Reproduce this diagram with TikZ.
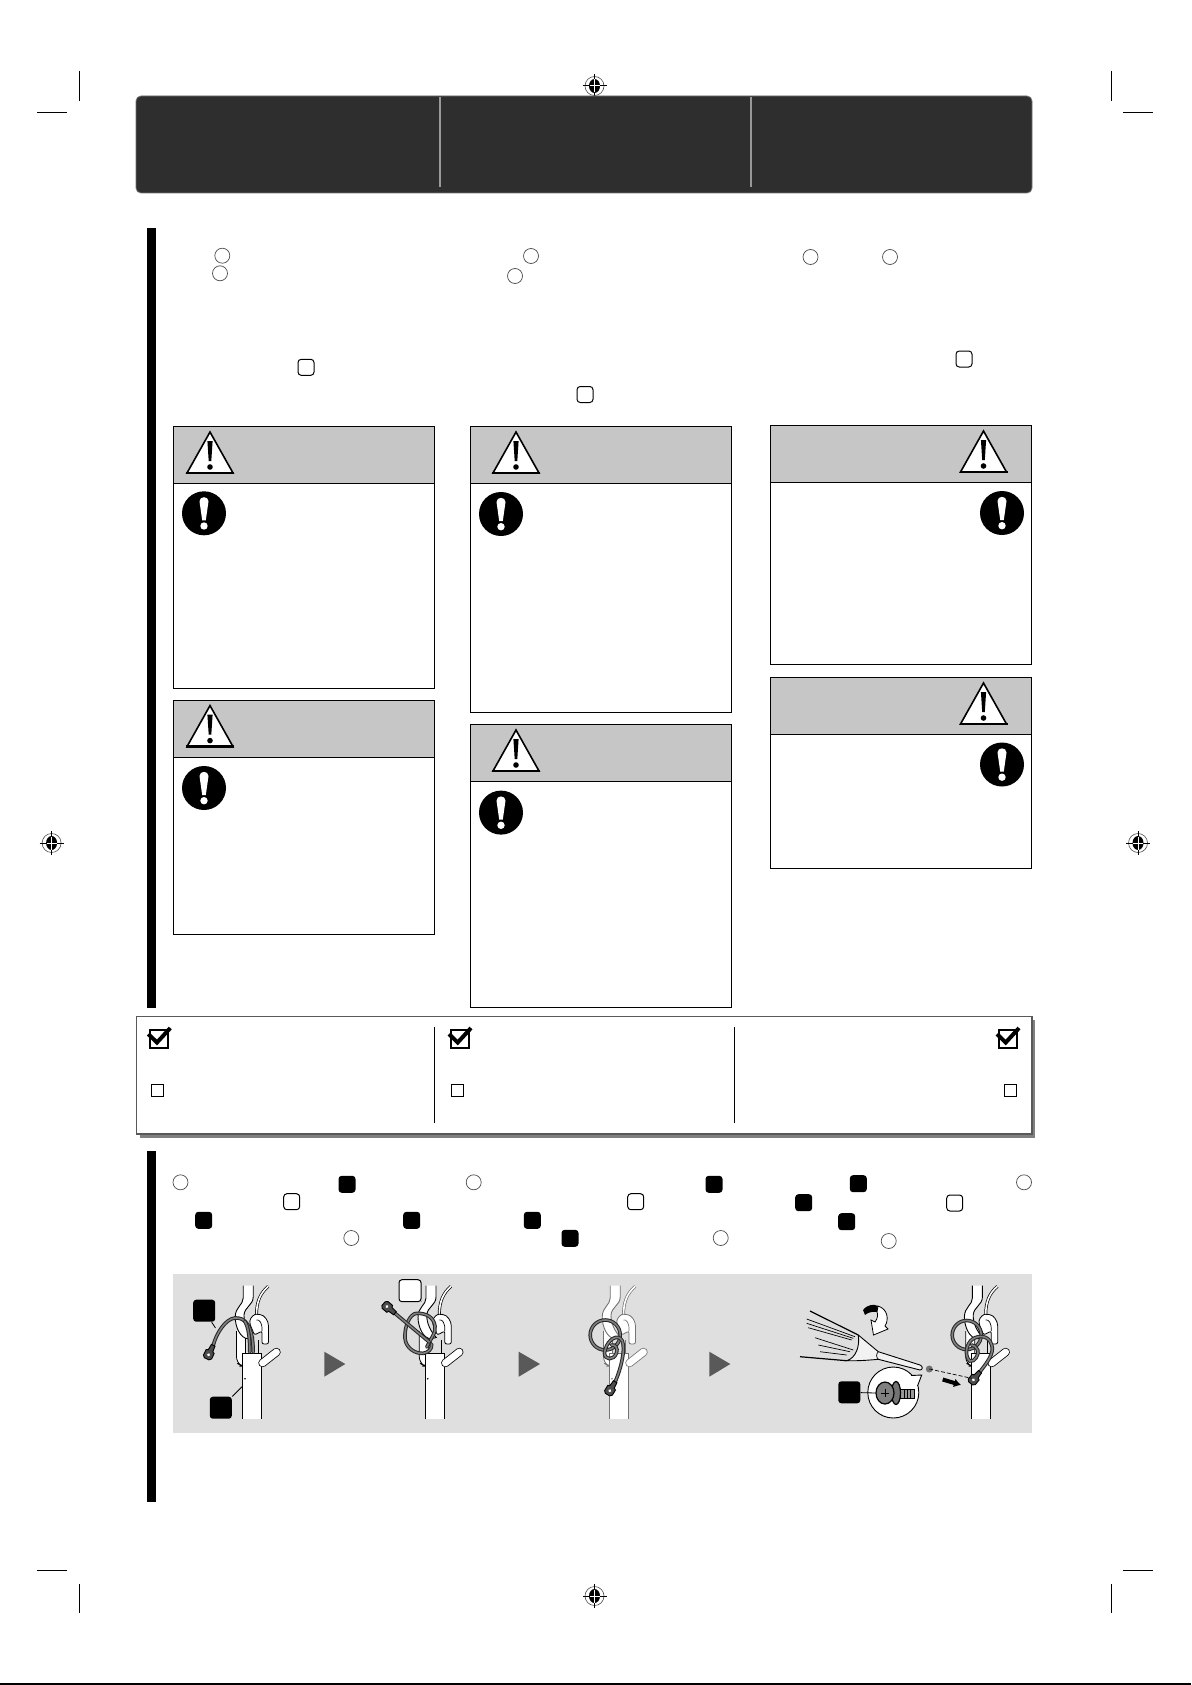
\documentclass[tikz,border=0pt]{standalone}
\usetikzlibrary{arrows.meta,positioning,shapes.geometric}
\definecolor{headgrey}{HTML}{2E2E2E}
\definecolor{bandgrey}{HTML}{C6C6C6}
\definecolor{panelgrey}{HTML}{DFDFDF}
\definecolor{playgrey}{HTML}{595959}
\tikzset{
cropline/.style={line width=.5pt},
numcircle/.style={
  circle, draw=black!70, fill=white, line width=.35pt, inner sep=0pt, minimum size=7.5pt
  },
partopen/.style={
  rectangle, rounded corners=1.6pt, draw=black, fill=white, line width=.5pt,
  inner sep=0pt, minimum size=8pt
  },
partfill/.style={
  rectangle, rounded corners=1.6pt, fill=black, inner sep=0pt, minimum size=8.5pt
  },
partbig/.style={
  rectangle, rounded corners=1.5pt, fill=black, inner sep=0pt, minimum size=11pt
  },
partbigopen/.style={
  rectangle, rounded corners=1.5pt, draw=black, fill=white, line width=.5pt,
  inner sep=0pt, minimum size=11pt
  },
warnhead/.style={
  rectangle, anchor=north west, draw=black, fill=bandgrey, line width=.5pt,
  inner sep=0pt, outer sep=0pt, minimum width=130.5pt, minimum height=28.5pt
  },
warnbody/.style={
  rectangle, draw=black, fill=white, line width=.5pt, inner sep=0pt, outer sep=0pt,
  minimum width=130.5pt, minimum height=#1
  },
tickbox/.style={
  rectangle, draw=black, fill=white, line width=.5pt, inner sep=0pt, minimum size=6pt
  },
cable/.style={
  draw=black!85, double=black!50, double distance=.8pt, line width=.5pt, line cap=round
  },
leader/.style={line width=.4pt},
pics/warnsign/.style={code={
  \draw[fill=white, line width=.8pt, line join=miter] (0,0) -- (23,41) -- (-23,41) -- cycle;
  \draw[line width=1.4pt] (-24,41) -- (24,41);
  \fill (-2.6,9) -- (2.6,9) -- (1.3,29) -- (-1.3,29) -- cycle;
  \fill (0,35) circle (2.8);
  }},
pics/mustsign/.style={code={
  \fill[black] (0,0) circle (22);
  \fill[white] (-4.5,-12) .. controls (-4.5,-17.5) and (4.5,-17.5) .. (4.5,-12) -- (1.8,7) -- (-1.8,7) -- cycle;
  \fill[white] (0,12.7) circle (3.7);
  }},
pics/regmark/.style={code={
  \draw[line width=.3pt, black!70] (0,0) circle (9.5);
  \fill (0,0) ellipse (5.5 and 7);
  \draw[line width=.5pt] (-12,0) -- (12,0) (0,-12) -- (0,12);
  \draw[line width=.5pt, white] (-5,0) -- (5,0) (0,-6.5) -- (0,6.5);
  }},
pics/checkmark/.style={code={
  \draw[line width=1pt, fill=white] (-9,-9) rectangle (9,9);
  \draw[line width=2pt, line join=miter] (-11,-5) -- (-2.3,3.5) -- (11,-11);
  }},
pics/lug/.style={code={
  \draw[fill=black!70, line width=.45pt] (0,-2) -- (6,-2.5) -- (7,-4.5) -- (13,-4.5) -- (15,-2.5)
    -- (15,2.5) -- (13,4.5) -- (7,4.5) -- (6,2.5) -- (0,2) -- cycle;
  \fill[white] (10.5,0) circle (1.6);
  }},
pics/hook/.style={code={
  % plate behind the pole
  \draw[line width=.4pt, fill=white, rounded corners=3pt] (-6,-22) -- (-6,10) -- (0,13.3) -- (3,13.3) -- (3,-22);
  \draw[line width=.4pt] (16,-13) -- (16,0);
  % thin wire
  \draw[line width=.35pt, double=white, double distance=.8pt] (25.7,-66.7) .. controls (18,-60) and (14,-52) .. (14,-38);
  % clamp
  \draw[line width=.4pt, fill=white, rounded corners=1pt] (7,-30) .. controls (8,-36) and (12,-39) .. (16,-38.5)
    .. controls (22,-38) and (26,-32) .. (26,-25) -- (26,-9) -- (19.5,-9) -- (19.5,-22) -- (12,-18) -- cycle;
  \draw[line width=.35pt] (14,-33) .. controls (17,-34) and (20,-30) .. (19.5,-22);
  % hook
  \draw[line width=.45pt, fill=white] (0.7,-67.3) -- (0.7,-55) .. controls (0.7,-48) and (-7.3,-46) .. (-7.3,-36)
    .. controls (-7.3,-26) and (-2,-14.3) .. (5.7,-14.3) -- (11,-15.5) .. controls (5,-22) and (1.3,-30) .. (1.5,-38)
    .. controls (2,-46) and (10.7,-48) .. (10.7,-56) -- (10.7,-67.3);
  % pole
  \draw[line width=.45pt, fill=white] (0,65.7) -- (0,0) -- (19,0) -- (19,65.7);
  \fill (2.5,25.7) circle (.9);
  % lever
  \draw[line width=.4pt, double=white, double distance=3.4pt, line cap=round] (20,10) -- (34,-1);
  }}
}
\begin{document}
\begin{tikzpicture}[x=.5pt,y=-.5pt,>=latex]
\useasboundingbox[fill=white] (0,0) rectangle (1191,1685);

% page edge

\draw[line width=.6pt] (0,1684) -- (1191,1684);

% crop marks

\draw[cropline] (79.5,71) -- (79.5,101);
\draw[cropline] (37,113) -- (67,113);
\draw[cropline] (1111.5,71) -- (1111.5,101);
\draw[cropline] (1123,113) -- (1153,113);
\draw[cropline] (79.5,1584) -- (79.5,1613);
\draw[cropline] (37,1570) -- (67,1570);
\draw[cropline] (1111.5,1584) -- (1111.5,1613);
\draw[cropline] (1123,1570) -- (1153,1570);

\pic at (594.5,86) {regmark};
\pic at (594.5,1596) {regmark};
\pic at (51.6,843) {regmark};
\pic at (1138,843) {regmark};

% header

\draw[fill=headgrey, draw=black!55, line width=.4pt, rounded corners=2.5pt] (136,96) rectangle (1032,193);
\draw[line width=.7pt, black!40] (440,97) -- (440,187);
\draw[line width=.7pt, black!40] (751,97) -- (751,187);

% side bars

\fill (147,228) rectangle (156,1008);
\fill (147,1151) rectangle (156,1502);

% upper markers

\node[numcircle] (C1) at (222.3,255.7) {};
\node[numcircle] (C2) at (220,273.3) {};
\node[numcircle] (C3) at (531,256) {};
\node[numcircle] (C4) at (515,276) {};
\node[numcircle] (C5) at (810.5,257) {};
\node[numcircle] (C6) at (890,257) {};

\node[partopen] (P1) at (306,367.3) {};
\node[partopen] (P2) at (585,394.5) {};
\node[partopen] (P3) at (964,359) {};

% warning column 1

\node[warnhead] (W1-head) at (173.3,426.7) {};
\node[warnbody=102.25pt, below=0pt of W1-head] (W1-body) {};
\pic at (210,432) {warnsign};
\pic at (204,513.3) {mustsign};

\node[warnhead] (W2-head) at (173.3,700.3) {};
\node[warnbody=88.5pt, below=0pt of W2-head] (W2-body) {};
\pic at (210,705.6) {warnsign};
\pic at (204,788) {mustsign};

% warning column 2

\node[warnhead] (W3-head) at (470,426.7) {};
\node[warnbody=114.6pt, below=0pt of W3-head] (W3-body) {};
\pic at (516,432) {warnsign};
\pic at (501,514) {mustsign};

\node[warnhead] (W4-head) at (470,724.5) {};
\node[warnbody=112.75pt, below=0pt of W4-head] (W4-body) {};
\pic at (516,730) {warnsign};
\pic at (501,812.6) {mustsign};

% warning column 3

\node[warnhead] (W5-head) at (770,425.5) {};
\node[warnbody=91pt, below=0pt of W5-head] (W5-body) {};
\pic at (983.5,431) {warnsign};
\pic at (1002,513) {mustsign};

\node[warnhead] (W6-head) at (770,677.5) {};
\node[warnbody=67pt, below=0pt of W6-head] (W6-body) {};
\pic at (983.5,683) {warnsign};
\pic at (1002,764.5) {mustsign};

% check strip

\fill[black!50] (139.5,1020) rectangle (1034.5,1137.5);
\draw[fill=white, draw=black!65, line width=.6pt] (136.7,1016.7) rectangle (1032,1134);
\draw[line width=.5pt] (434.3,1027) -- (434.3,1122.7);
\draw[line width=.5pt] (734.5,1027) -- (734.5,1122.7);

\pic at (159.3,1039) {checkmark};
\pic at (460,1039) {checkmark};
\pic at (1008,1039) {checkmark};

\node[tickbox] (T1) at (157.3,1090) {};
\node[tickbox] (T2) at (457,1090) {};
\node[tickbox] (T3) at (1010.5,1090) {};

% lower markers

\node[numcircle] (C7) at (180.5,1182.3) {};
\node[numcircle] (C8) at (473.7,1182.3) {};
\node[numcircle] (C9) at (351.3,1238) {};
\node[numcircle] (C10) at (720.7,1238) {};
\node[numcircle] (C11) at (888.7,1241) {};
\node[numcircle] (C12) at (1024,1182.3) {};

\node[partopen] (P4) at (291.7,1201.7) {};
\node[partopen] (P5) at (635.7,1201.7) {};
\node[partopen] (P6) at (954.7,1203) {};

\node[partfill] (F1) at (347,1184.3) {};
\node[partfill] (F2) at (203.7,1220.3) {};
\node[partfill] (F3) at (411.7,1220.3) {};
\node[partfill] (F4) at (532.3,1220.3) {};
\node[partfill] (F5) at (570,1238.3) {};
\node[partfill] (F6) at (714,1184.3) {};
\node[partfill] (F7) at (858.3,1183.7) {};
\node[partfill] (F8) at (803.7,1202.7) {};
\node[partfill] (F9) at (846.7,1221.7) {};

% panel

\fill[panelgrey] (173,1274) rectangle (1032,1433);

\fill[playgrey] (324.3,1351.7) -- (345.3,1364) -- (324.3,1376.7) -- cycle;
\fill[playgrey] (518.7,1351.7) -- (540,1364) -- (518.7,1376.7) -- cycle;
\fill[playgrey] (709.3,1351.7) -- (730.3,1364) -- (709.3,1376.7) -- cycle;

% figure 1

\begin{scope}[shift={(242.5,1353)}]
\pic {hook};
\draw[cable] (-29.3,-7.7) .. controls (-26,-20) and (-17,-34) .. (-7.7,-35)
  .. controls (2,-36) and (10.7,-28) .. (10.7,-1);
\draw[cable] (2.3,-31.7) .. controls (6,-26) and (7.3,-15) .. (7.3,-1);
\pic[rotate=244] at (-29.3,-7.7) {lug};
\node[partbig] (G1) at (-38.3,-42.3) {};
\node[partbig] (G2) at (-21.7,54.7) {};
\coordinate (G1-end) at (-27,-25);
\coordinate (G2-end) at (0,33.3);
\draw[leader] (G1) -- (G1-end);
\draw[leader] (G2) -- (G2-end);
\end{scope}

% figure 2

\begin{scope}[shift={(425.3,1353)}]
\pic {hook};
\draw[cable] (1.5,-6) .. controls (5,-14) and (11,-20) .. (9.7,-27)
  .. controls (8.5,-35) and (2,-40) .. (-8.7,-39.7)
  .. controls (-16,-39) and (-21,-26) .. (-20.3,-14.7)
  .. controls (-19.5,-5) and (-10,1) .. (-2,0.3)
  .. controls (3,-0.5) and (7,-4) .. (6.3,-9);
\draw[cable] (-30.3,-39.7) -- (4,-11);
\pic[rotate=140] at (-30.3,-39.7) {lug};
\node[partbigopen] (G3) at (-15.3,-62.3) {};
\coordinate (G3-end) at (-3.7,-51.7);
\draw[leader] (G3) -- (G3-end);
\end{scope}

% figure 3

\begin{scope}[shift={(609.5,1353)}]
\pic[color=black!55] {hook};
\draw[cable] (-4.3,-18) circle (15);
\draw[cable] (5.7,28.7) .. controls (13,12) and (17,-10) .. (11,-14.5)
  .. controls (5,-19) and (-4,-10) .. (-5,0)
  .. controls (-5,7) and (4,8) .. (7,0)
  .. controls (9,-5) and (5,-9) .. (2,-8);
\pic[rotate=239] at (5.7,28.7) {lug};
\end{scope}

% figure 4

\begin{scope}[shift={(971.7,1353)}]
\pic {hook};
\draw[cable] (-5,-18) circle (14.5);
\draw[cable] (8.3,18.7) .. controls (15,10) and (23,0) .. (20,-8)
  .. controls (17,-18) and (7,-18) .. (1,-14)
  .. controls (-5,-10) and (-8,2) .. (-2,8)
  .. controls (3,10) and (8,0) .. (6,-3)
  .. controls (5,-6) and (2,-8) .. (0,-8);
\pic[rotate=231] at (8.3,18.7) {lug};
\end{scope}

% screwdriver

\draw[line width=.6pt] (810,1311) -- (858.3,1335);
\draw[line width=.6pt] (800,1356.7) -- (846.7,1360.7);
\draw[line width=.35pt] (806.7,1319) -- (855,1336.7);
\draw[line width=.35pt] (806.7,1323.3) -- (853.3,1338.3);
\draw[line width=.35pt] (808.3,1327.7) -- (851.7,1340);
\draw[line width=.35pt] (815,1337.7) -- (853.3,1350);
\draw[line width=.35pt] (818.3,1345) -- (850,1351.7);
\draw[line width=.35pt] (820,1351.7) -- (846.7,1355);
\draw[line width=.45pt, fill=panelgrey!40!white] (858.3,1335) -- (878.3,1351.7) -- (920,1365)
  .. controls (923,1366) and (923,1370) .. (920,1370) -- (878.3,1359.3)
  .. controls (870,1360) and (860,1361) .. (846.7,1360.7) .. controls (856,1358) and (860,1346) .. (858.3,1335);
\draw[line width=.35pt] (878.3,1351.7) .. controls (876,1354) and (876,1357) .. (878.3,1359.3);

% rotation arrow

\fill (863,1310) .. controls (868,1304) and (874,1304) .. (878,1306) -- (877,1312)
  .. controls (872,1311) and (867,1313) .. (865,1315) -- cycle;
\draw[line width=.4pt, fill=white] (878,1306) .. controls (888,1309) and (889,1320) .. (885,1326)
  -- (888,1329) -- (873.5,1335) -- (871,1320) -- (875,1322)
  .. controls (878,1318) and (878,1314) .. (877,1312) -- cycle;

% screw

\fill[black!55] (929.3,1369) circle (3.5);
\draw[line width=.35pt, dashed, dash pattern=on 2pt off 1pt] (929.3,1369) -- (971.7,1378.3);
\draw[-{Latex[length=3.5pt,width=4.5pt]}, line width=2pt] (942.7,1379.5) -- (961,1385);

\node[circle, draw=black, fill=white, line width=.45pt, inner sep=0pt, minimum size=25.5pt] (bubble) at (893.3,1392.5) {};
\fill[white] (911,1376) -- (921.7,1375) -- (917,1387) -- cycle;
\draw[line width=.45pt] (911,1375.5) -- (921.7,1375) -- (917.5,1386);

\draw[line width=.4pt, fill=black!40] (900,1389) rectangle (914,1398);
\draw[line width=.3pt] (904,1389) -- (904,1398) (907,1389) -- (907,1398) (910,1389) -- (910,1398);
\draw[line width=.6pt, fill=black!55] (896,1393) ellipse (4.5 and 11.5);
\draw[line width=.6pt, fill=black!50] (885,1393) ellipse (9 and 11);
\draw[line width=.3pt] (881,1393) -- (889,1393) (885,1389) -- (885,1397);

\node[partbig] (G4) at (849.3,1392.3) {};
\coordinate (G4-end) at (876,1393);
\draw[leader] (G4) -- (G4-end);

\end{tikzpicture}
\end{document}
